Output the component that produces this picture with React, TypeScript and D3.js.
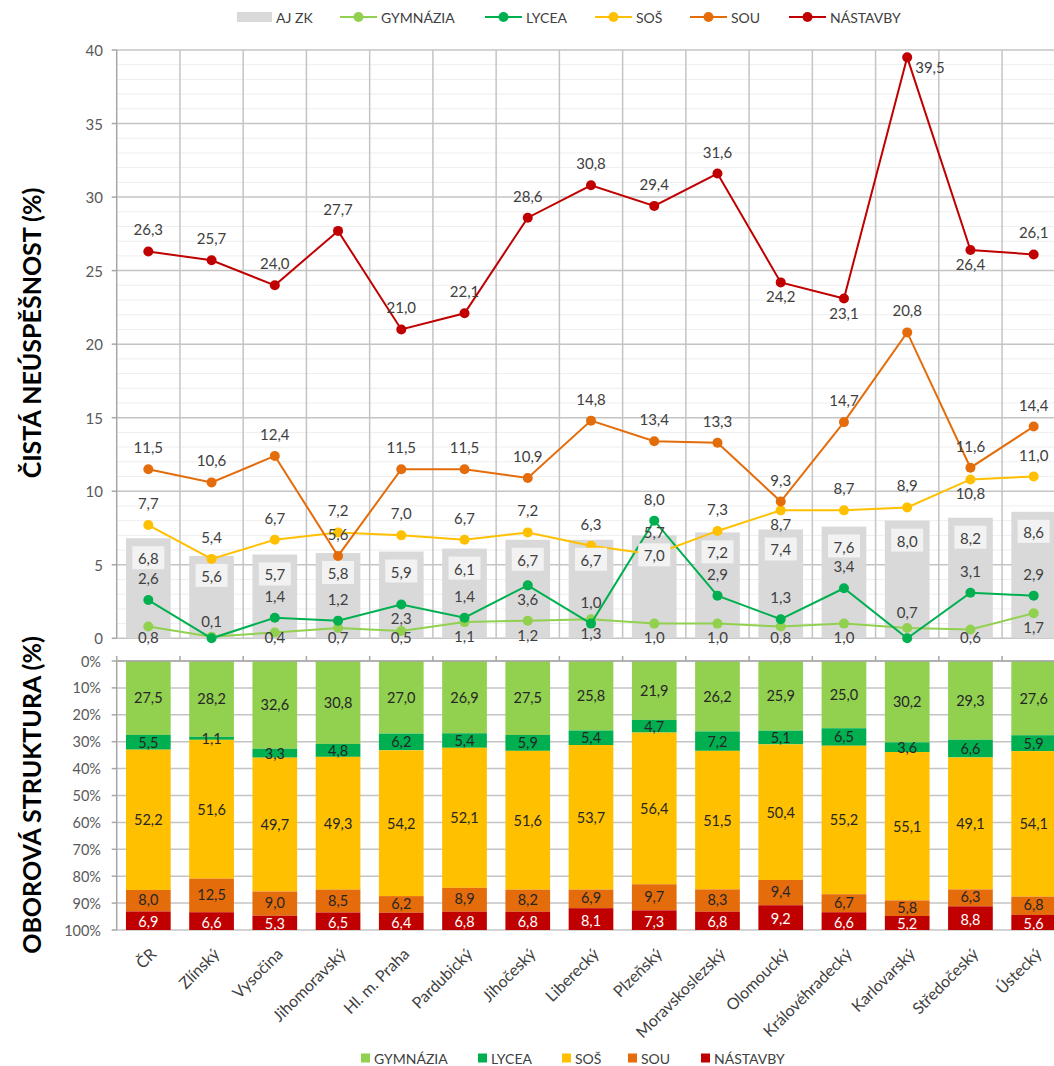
import React from "react";
import * as d3 from "d3";

const categories = ["ČR","Zlínský","Vysočina","Jihomoravský","Hl. m. Praha","Pardubický","Jihočeský","Liberecký","Plzeňský","Moravskoslezský","Olomoucký","Královéhradecký","Karlovarský","Středočeský","Ústecký"];

const ajZk = [6.8,5.6,5.7,5.8,5.9,6.1,6.7,6.7,7.0,7.2,7.4,7.6,8.0,8.2,8.6];
const gymnazia = [0.8,0.1,0.4,0.7,0.5,1.1,1.2,1.3,1.0,1.0,0.8,1.0,0.7,0.6,1.7];
const lycea = [2.6,0.0,1.4,1.2,2.3,1.4,3.6,1.0,8.0,2.9,1.3,3.4,0.0,3.1,2.9];
const sos = [7.7,5.4,6.7,7.2,7.0,6.7,7.2,6.3,5.7,7.3,8.7,8.7,8.9,10.8,11.0];
const sou = [11.5,10.6,12.4,5.6,11.5,11.5,10.9,14.8,13.4,13.3,9.3,14.7,20.8,11.6,14.4];
const nastavby = [26.3,25.7,24.0,27.7,21.0,22.1,28.6,30.8,29.4,31.6,24.2,23.1,39.5,26.4,26.1];

// label placement codes: a = above, b = below, r = right, n = none
const gymnaziaPos = ["b","a","b","b","b","b","b","b","b","b","b","b","a","b","b"];
const lyceaPos = ["a","n","a","a","b","a","b","a","a","a","a","a","n","a","a"];
const sosPos = ["a","a","a","a","a","a","a","a","a","a","b","a","a","b","a"];
const souPos = ["a","a","a","a","a","a","a","a","a","a","a","a","a","a","a"];
const nastavbyPos = ["a","a","a","a","a","a","a","a","a","a","b","b","r","b","a"];

const shareGymnazia = [27.5,28.2,32.6,30.8,27.0,26.9,27.5,25.8,21.9,26.2,25.9,25.0,30.2,29.3,27.6];
const shareLycea = [5.5,1.1,3.3,4.8,6.2,5.4,5.9,5.4,4.7,7.2,5.1,6.5,3.6,6.6,5.9];
const shareSos = [52.2,51.6,49.7,49.3,54.2,52.1,51.6,53.7,56.4,51.5,50.4,55.2,55.1,49.1,54.1];
const shareSou = [8.0,12.5,9.0,8.5,6.2,8.9,8.2,6.9,9.7,8.3,9.4,6.7,5.8,6.3,6.8];
const shareNastavby = [6.9,6.6,5.3,6.5,6.4,6.8,6.8,8.1,7.3,6.8,9.2,6.6,5.2,8.8,5.6];

const topTicks = [0,5,10,15,20,25,30,35,40];
const botTicks = [0,10,20,30,40,50,60,70,80,90,100];

const C = {
  gym: "#92d050",
  lyc: "#00b050",
  sos: "#ffc000",
  sou: "#e46c0a",
  nas: "#c00000",
  aj: "#d9d9d9",
};

const FONT = "Lato, 'Open Sans', sans-serif";
const fmt = (v: number) => v.toFixed(1).replace(".", ",");

export default function App() {
  const left = 116.7;
  const step = 63.24;
  const x = d3.scaleBand<string>().domain(categories).range([left, left + step * categories.length]).paddingInner(0.293).paddingOuter(0.1465);
  const cx = (c: string) => (x(c) as number) + x.bandwidth() / 2;
  const right = left + step * categories.length;

  const yT = d3.scaleLinear().domain([0, 40]).range([638.3, 50]);
  const yB = d3.scaleLinear().domain([0, 100]).range([661, 930]);

  const lineSeries = [
    { name: "GYMNÁZIA", values: gymnazia, pos: gymnaziaPos, color: C.gym },
    { name: "LYCEA", values: lycea, pos: lyceaPos, color: C.lyc },
    { name: "SOŠ", values: sos, pos: sosPos, color: C.sos },
    { name: "SOU", values: sou, pos: souPos, color: C.sou },
    { name: "NÁSTAVBY", values: nastavby, pos: nastavbyPos, color: C.nas },
  ];

  const line = d3.line<number>().x((_, i) => cx(categories[i])).y((d) => yT(d));

  const minorTicks = d3.range(0, 41, 1).filter((v) => v % 5 !== 0);

  const stackKeys = ["gym", "lyc", "sos", "sou", "nas"];
  const stackRows = categories.map((c, i) => {
    const raw = [shareGymnazia[i], shareLycea[i], shareSos[i], shareSou[i], shareNastavby[i]];
    const tot = d3.sum(raw);
    const row: any = { cat: c };
    stackKeys.forEach((k, j) => { row[k] = (raw[j] / tot) * 100; row[k + "_v"] = raw[j]; });
    return row;
  });
  const stacked = d3.stack<any>().keys(stackKeys)(stackRows);

  const labelPos = (px: number, py: number, code: string, isGym: boolean) => {
    if (code === "a") return { x: px, y: py - (isGym ? 16 : 22), anchor: "middle" };
    if (code === "b") return { x: px, y: Math.min(py + 14, 637), anchor: "middle" };
    if (code === "r") return { x: px + 8, y: py + 10, anchor: "start" };
    return null;
  };

  const topLegend = [
    { name: "GYMNÁZIA", color: C.gym, x0: 340 },
    { name: "LYCEA", color: C.lyc, x0: 485 },
    { name: "SOŠ", color: C.sos, x0: 595 },
    { name: "SOU", color: C.sou, x0: 690 },
    { name: "NÁSTAVBY", color: C.nas, x0: 789 },
  ];
  const botLegend = [
    { name: "GYMNÁZIA", color: C.gym, x0: 361 },
    { name: "LYCEA", color: C.lyc, x0: 478 },
    { name: "SOŠ", color: C.sos, x0: 562 },
    { name: "SOU", color: C.sou, x0: 628 },
    { name: "NÁSTAVBY", color: C.nas, x0: 701 },
  ];

  return (
    <svg width={1054} height={1066} style={{ position: "absolute", left: 0, top: 0, background: "#fff" }} fontFamily={FONT}>
      <rect x={0} y={0} width={1054} height={1066} fill="#fff" />
      {/* top legend */}
      <g fontSize={14} fill="#404040">
        <rect x={237} y={12} width={35} height={10} fill={C.aj} />
        <text x={276} y={17} dominantBaseline="central">AJ ZK</text>
        {topLegend.map((l) => (
          <g key={l.name}>
            <line x1={l.x0} x2={l.x0 + 37} y1={17} y2={17} stroke={l.color} strokeWidth={2} />
            <circle cx={l.x0 + 18.5} cy={17} r={5} fill={l.color} />
            <text x={l.x0 + 41} y={17} dominantBaseline="central">{l.name}</text>
          </g>
        ))}
      </g>

      {/* top chart grid */}
      {minorTicks.map((t) => (
        <line key={"mn" + t} x1={left} x2={right} y1={yT(t)} y2={yT(t)} stroke="#eeeeee" strokeWidth={1} />
      ))}
      {topTicks.map((t) => (
        <line key={"mj" + t} x1={left} x2={right} y1={yT(t)} y2={yT(t)} stroke="#c4c4c4" strokeWidth={1.5} />
      ))}
      {d3.range(1, categories.length + 1).map((i) => (
        <line key={"vg" + i} x1={left + i * step} x2={left + i * step} y1={yT(40)} y2={yT(0)} stroke="#c4c4c4" strokeWidth={1.5} />
      ))}
      <line x1={left} x2={left} y1={yT(40)} y2={yT(0)} stroke="#a6a6a6" strokeWidth={1.5} />
      {topTicks.map((t) => (
        <g key={"tt" + t}>
          <line x1={left - 5} x2={left} y1={yT(t)} y2={yT(t)} stroke="#a6a6a6" strokeWidth={1.5} />
          <text x={103} y={yT(t)} textAnchor="end" dominantBaseline="central" fontSize={15} fill="#595959">{t}</text>
        </g>
      ))}

      {/* AJ ZK bars */}
      {categories.map((c, i) => (
        <rect key={"aj" + c} x={x(c)} y={yT(ajZk[i])} width={x.bandwidth()} height={yT(0) - yT(ajZk[i])} fill={C.aj} />
      ))}

      {/* lines */}
      {lineSeries.map((s) => (
        <g key={s.name}>
          <path d={line(s.values) || ""} fill="none" stroke={s.color} strokeWidth={2} />
          {s.values.map((v, i) => (
            <circle key={i} cx={cx(categories[i])} cy={yT(v)} r={5} fill={s.color} />
          ))}
        </g>
      ))}

      {/* AJ labels */}
      {categories.map((c, i) => (
        <g key={"ajl" + c}>
          <rect x={cx(c) - 16} y={yT(ajZk[i]) + 8} width={32} height={23} fill="#f2f2f2" />
          <text x={cx(c)} y={yT(ajZk[i]) + 20} textAnchor="middle" dominantBaseline="central" fontSize={15} fill="#404040">{fmt(ajZk[i])}</text>
        </g>
      ))}

      {/* line labels */}
      {lineSeries.map((s) => (
        <g key={"lbl" + s.name} fontSize={15} fill="#404040">
          {s.values.map((v, i) => {
            const p = labelPos(cx(categories[i]), yT(v), s.pos[i], s.name === "GYMNÁZIA");
            if (!p) return null;
            return (
              <text key={i} x={p.x} y={p.y} textAnchor={p.anchor as any} dominantBaseline="central">{fmt(v)}</text>
            );
          })}
        </g>
      ))}

      {/* bottom chart */}
      {botTicks.map((t) => (
        <line key={"bg" + t} x1={left} x2={right} y1={yB(t)} y2={yB(t)} stroke="#c4c4c4" strokeWidth={1.5} />
      ))}
      {stacked.map((layer) => (
        <g key={layer.key} fill={(C as any)[layer.key]}>
          {layer.map((d, i) => (
            <rect key={i} x={x(categories[i])} y={yB(d[0])} width={x.bandwidth()} height={yB(d[1]) - yB(d[0])} />
          ))}
        </g>
      ))}
      {stacked.map((layer) => (
        <g key={"sl" + layer.key} fontSize={14.5} fill={layer.key === "nas" ? "#ffffff" : "#262626"}>
          {layer.map((d, i) => (
            <text key={i} x={cx(categories[i])} y={(yB(d[0]) + yB(d[1])) / 2 + (layer.key === "nas" ? 1 : layer.key === "sou" ? -1 : 0)} textAnchor="middle" dominantBaseline="central">
              {fmt((d.data as any)[layer.key + "_v"])}
            </text>
          ))}
        </g>
      ))}
      <line x1={left} x2={right} y1={yB(0)} y2={yB(0)} stroke="#a6a6a6" strokeWidth={1.5} />
      {d3.range(0, categories.length + 1).map((i) => (
        <line key={"bt" + i} x1={left + i * step} x2={left + i * step} y1={yB(0) - 5} y2={yB(0)} stroke="#a6a6a6" strokeWidth={1.5} />
      ))}
      <line x1={left} x2={left} y1={yB(0)} y2={yB(100)} stroke="#a6a6a6" strokeWidth={1.5} />
      {botTicks.map((t) => (
        <g key={"bl" + t}>
          <line x1={left - 5} x2={left} y1={yB(t)} y2={yB(t)} stroke="#a6a6a6" strokeWidth={1.5} />
          <text x={101} y={yB(t)} textAnchor="end" dominantBaseline="central" fontSize={14.5} fill="#595959">{t + "%"}</text>
        </g>
      ))}

      {/* x labels */}
      {categories.map((c) => (
        <text key={"xl" + c} transform={`translate(${cx(c) + 1},${947}) rotate(-45)`} textAnchor="end" dy="0.71em" fontSize={16} fill="#404040">{c}</text>
      ))}

      {/* titles */}
      <text transform="translate(31,333) rotate(-90)" textAnchor="middle" dominantBaseline="central" fontSize={25} fontWeight="bold" fill="#000">ČISTÁ NEÚSPĚŠNOST (%)</text>
      <text transform="translate(31,795) rotate(-90)" textAnchor="middle" dominantBaseline="central" fontSize={25} fontWeight="bold" fill="#000">OBOROVÁ STRUKTURA (%)</text>

      {/* bottom legend */}
      <g fontSize={14} fill="#404040">
        {botLegend.map((l) => (
          <g key={"bl" + l.name}>
            <rect x={l.x0} y={1053.5} width={9} height={9} fill={l.color} />
            <text x={l.x0 + 13} y={1058} dominantBaseline="central">{l.name}</text>
          </g>
        ))}
      </g>
    </svg>
  );
}
